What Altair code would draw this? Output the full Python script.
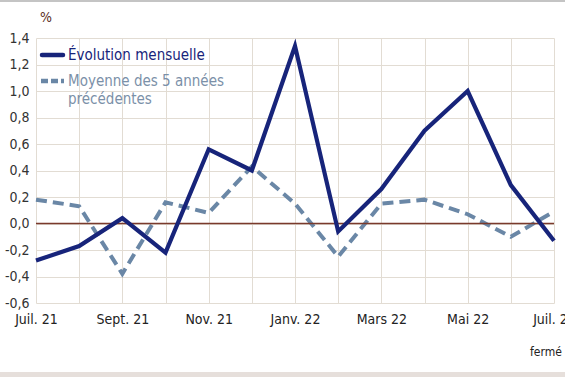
import altair as alt
import pandas as pd

months = ["Juil. 21", "Août 21", "Sept. 21", "Oct. 21", "Nov. 21", "Déc. 21",
          "Janv. 22", "Févr. 22", "Mars 22", "Avr. 22", "Mai 22", "Juin 22", "Juil. 22"]
evolution = [-0.28, -0.17, 0.04, -0.22, 0.56, 0.40, 1.34, -0.06, 0.26, 0.70, 1.00, 0.29, -0.13]
moyenne = [0.18, 0.13, -0.38, 0.16, 0.08, 0.43, 0.15, -0.25, 0.15, 0.18, 0.07, -0.10, 0.09]
y_ticks = [-0.6, -0.4, -0.2, 0.0, 0.2, 0.4, 0.6, 0.8, 1.0, 1.2, 1.4]

NAVY = "#17247a"
STEEL = "#6a87a6"
FONT = "'DejaVu Sans Condensed', 'Liberation Sans Narrow', 'Noto Sans', sans-serif"

df = pd.DataFrame({"mois": months, "evo": evolution, "moy": moyenne})

label_list = "[" + ",".join("'" + m + "'" for m in months) + "]"
x_enc = alt.X(
    "mois:N", sort=months, title=None,
    scale=alt.Scale(type="point", padding=0),
    axis=alt.Axis(
        labelAngle=0, grid=True, gridColor="#e2dcd3", gridWidth=1,
        domain=False, ticks=False, labelPadding=9, labelFontSize=14,
        labelFont=FONT, labelColor="#222222", labelOverlap=False,
        labelExpr="indexof(" + label_list + ", datum.value) % 2 == 0 ? datum.value : ''",
    ),
)
y_scale = alt.Scale(domain=[-0.6, 1.4], nice=False, zero=False)
y_axis = alt.Axis(
    values=y_ticks, grid=True, gridColor="#e2dcd3", gridWidth=1, domain=False,
    ticks=False, labelPadding=7, labelFontSize=14, labelFont=FONT,
    labelColor="#333333", format=".1f", labelOverlap=False, labelBound=False,
    labelExpr="replace(replace(datum.label, '.', ','), '\u2212', '-')",
)

base = alt.Chart(df)

moy_line = base.mark_line(color=STEEL, strokeWidth=4, strokeDash=[11, 6]).encode(
    x=x_enc, y=alt.Y("moy:Q", scale=y_scale, axis=y_axis, title=None)
)
evo_line = base.mark_line(color=NAVY, strokeWidth=4.2, strokeJoin="miter").encode(
    x=x_enc, y=alt.Y("evo:Q", scale=y_scale, axis=y_axis, title=None)
)
zero = alt.Chart(pd.DataFrame({"z": [0.0]})).mark_rule(color="#7a3a2c", strokeWidth=1.5).encode(
    y=alt.Y("z:Q", scale=y_scale, axis=y_axis, title=None)
)

# legend
leg_solid = alt.Chart(pd.DataFrame({"a": [0]})).mark_rule(color=NAVY, strokeWidth=4.5, strokeCap="round").encode(
    x=alt.value(6), x2=alt.value(27), y=alt.value(17))
leg_dash = alt.Chart(pd.DataFrame({"a": [0]})).mark_rule(color=STEEL, strokeWidth=4.5, strokeDash=[7, 3]).encode(
    x=alt.value(5), x2=alt.value(28), y=alt.value(43))
leg_t1 = alt.Chart(pd.DataFrame({"t": ["Évolution mensuelle"]})).mark_text(
    align="left", baseline="middle", fontSize=15, font=FONT, color=NAVY).encode(
    x=alt.value(32), y=alt.value(17), text="t:N")
leg_t2 = alt.Chart(pd.DataFrame({"t": ["Moyenne des 5 années"]})).mark_text(
    align="left", baseline="middle", fontSize=15, font=FONT, color="#7b90a8").encode(
    x=alt.value(32), y=alt.value(43), text="t:N")
leg_t3 = alt.Chart(pd.DataFrame({"t": ["précédentes"]})).mark_text(
    align="left", baseline="middle", fontSize=15, font=FONT, color="#7b90a8").encode(
    x=alt.value(32), y=alt.value(61), text="t:N")

pct = alt.Chart(pd.DataFrame({"t": ["%"]})).mark_text(
    align="left", baseline="middle", fontSize=14, font=FONT, color="#5a2e22").encode(
    x=alt.value(4), y=alt.value(-20), text="t:N")
src = alt.Chart(pd.DataFrame({"t": ["fermé"]})).mark_text(
    align="left", baseline="middle", fontSize=12, font=FONT, color="#222222").encode(
    x=alt.value(494), y=alt.value(314), text="t:N")

top_band = alt.Chart(pd.DataFrame({"a": [0]})).mark_rect(color="#c4c4c4").encode(
    x=alt.value(-36), x2=alt.value(530), y=alt.value(-38), y2=alt.value(-36))
bot_band = alt.Chart(pd.DataFrame({"a": [0]})).mark_rect(color="#e6dfdb").encode(
    x=alt.value(-36), x2=alt.value(530), y=alt.value(334), y2=alt.value(340))

chart = alt.layer(
    moy_line, zero, evo_line, leg_solid, leg_dash, leg_t1, leg_t2, leg_t3, pct, src, top_band, bot_band
).properties(
    width=518, height=265,
    autosize=alt.AutoSizeParams(type="none"),
    padding={"left": 36, "top": 38, "right": 11, "bottom": 74},
    background="white",
).configure_view(stroke=None)

chart.save("out.html", embed_options={"renderer": "svg", "actions": False})
